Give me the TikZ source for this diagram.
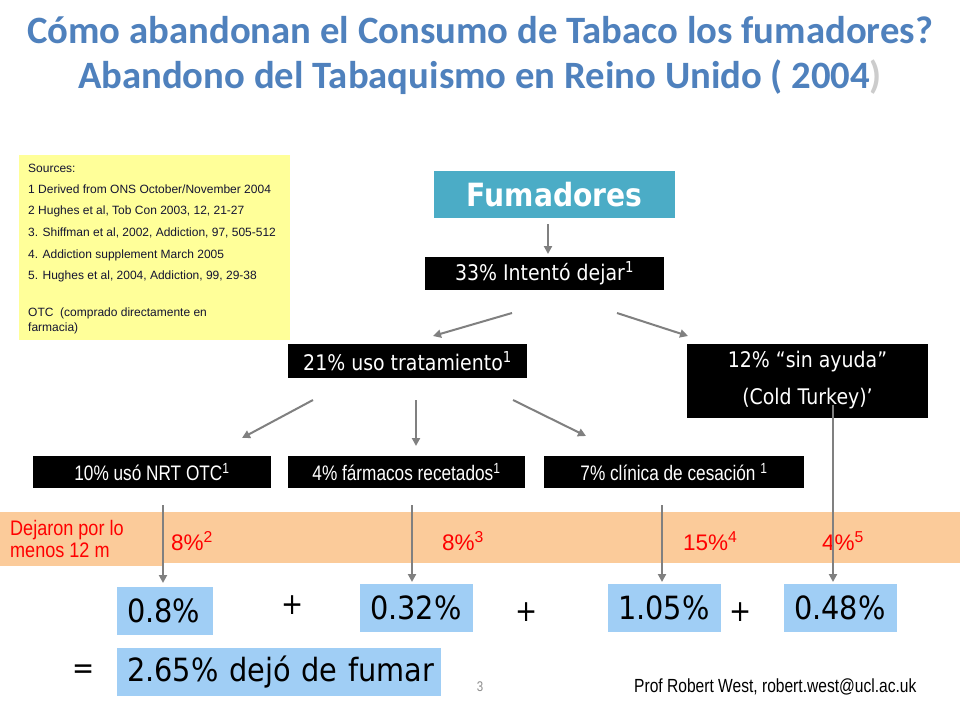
\documentclass[tikz,border=0pt]{standalone}
\usepackage{fontspec}
\usetikzlibrary{arrows.meta}
\setmainfont{Liberation Sans}
\newfontfamily\titlefont{Carlito}
\newfontfamily\tah{DejaVu Sans}[FakeStretch=0.88]
\newfontfamily\tahc{DejaVu Sans}[FakeStretch=0.9]
\newfontfamily\narrow{Liberation Sans}[FakeStretch=0.82]
\newfontfamily\dejfont{Liberation Sans}[FakeStretch=0.86]
\newfontfamily\srcfont{Liberation Sans}
\definecolor{titleblue}{RGB}{79,129,189}
\definecolor{teal}{RGB}{75,172,198}
\definecolor{srcyellow}{RGB}{255,255,153}
\definecolor{bandorange}{RGB}{251,203,154}
\definecolor{lightblue}{RGB}{160,206,245}
\definecolor{arrgray}{RGB}{128,128,128}
\definecolor{srctext}{RGB}{20,20,50}
\begin{document}
\begin{tikzpicture}[x=1pt,y=-1pt,
  blackbox/.style={fill=black,text=white,inner sep=0pt,font=\tah\fontsize{21.5}{24}\selectfont},
  whitetext/.style={text=white,inner sep=0pt,font=\tah\fontsize{21.5}{24}\selectfont},
  narrowbox/.style={fill=black,text=white,inner sep=0pt,font=\narrow\fontsize{21}{24}\selectfont},
  valbox/.style={fill=lightblue,inner ysep=0pt,inner xsep=10pt,minimum height=48pt,align=left,
                 font=\tahc\fontsize{32}{36}\selectfont},
  redpct/.style={text=red,font=\fontsize{22.5}{24}\selectfont},
  arr/.style={draw=arrgray,line width=2pt,-{Triangle[length=8pt,width=8pt]}},
  srcline/.style={anchor=west,inner sep=0pt,text=srctext,font=\srcfont\fontsize{12}{14}\selectfont},
  titletxt/.style={font=\titlefont\bfseries\fontsize{38.7}{42}\selectfont,text=titleblue},
  plusmark/.style={font=\tah\fontsize{30}{32}\selectfont}
]
\useasboundingbox (0,0) rectangle (960,720);
\fill[white] (0,0) rectangle (960,720);

% title
\node[titletxt] (t1) at (480,30) {Cómo abandonan el Consumo de Tabaco los fumadores?};
\node[titletxt] (t2) at (480,77) {Abandono del Tabaquismo en Reino Unido ( 2004\textcolor{black!20}{)}};

% sources box
\node[fill=srcyellow,minimum width=271pt,minimum height=185pt,inner sep=0pt] (src) at (154.5,247.5) {};
\node[srcline] (s0) at (28,168) {Sources:};
\node[srcline] (s1) at (28,189) {1 Derived from ONS October/November 2004};
\node[srcline] (s2) at (28,211) {2 Hughes et al, Tob Con 2003, 12, 21-27};
\node[srcline] (s3) at (28,233) {3. Shiffman et al, 2002, Addiction, 97, 505-512};
\node[srcline] (s4) at (28,255) {4. Addiction supplement March 2005};
\node[srcline] (s5) at (28,276) {5. Hughes et al, 2004, Addiction, 99, 29-38};
\node[srcline] (s6) at (28,313) {OTC\ \ (comprado directamente en};
\node[srcline] (s7) at (28,328) {farmacia)};

% main flow
\node[fill=teal,text=white,minimum width=241pt,minimum height=47pt,inner sep=0pt,
      font=\tah\bfseries\fontsize{32}{34}\selectfont] (fum) at (554.5,194.5) {Fumadores};
\node[blackbox,minimum width=239pt,minimum height=33pt] (i33) at (544.5,273.5) {33\% Intentó dejar\textsuperscript{1}};
\node[blackbox,minimum width=239pt,minimum height=34pt] (t21) at (407.5,361) {21\% uso tratamiento\textsuperscript{1}};
\node[fill=black,minimum width=241pt,minimum height=74pt,inner sep=0pt] (sa12) at (807.5,381) {};
\node[whitetext] (sa12a) at (807.5,362) {12\% “sin ayuda”};
\node[whitetext] (sa12b) at (807.5,399) {(Cold Turkey)’};
\node[narrowbox,minimum width=238pt,minimum height=32pt] (nrt) at (152,472) {10\% usó NRT OTC\textsuperscript{1}};
\node[narrowbox,minimum width=237pt,minimum height=32pt] (farm) at (406.5,472) {4\% fármacos recetados\textsuperscript{1}};
\node[narrowbox,minimum width=260pt,minimum height=32pt] (clin) at (674,472) {7\% clínica de cesación \textsuperscript{1}};

% band
\fill[bandorange] (0,512) rectangle (960,563);
\fill[bandorange] (0,512) rectangle (162,566);
\node[anchor=west,inner sep=0pt,text=red,align=left,font=\dejfont\fontsize{21}{22}\selectfont] (dej) at (10,539) {Dejaron por lo\\menos 12 m};
\node[redpct,anchor=west,inner sep=0pt] (p1) at (171,541) {8\%\textsuperscript{2}};
\node[redpct,anchor=west,inner sep=0pt] (p2) at (442,541) {8\%\textsuperscript{3}};
\node[redpct,anchor=west,inner sep=0pt] (p3) at (683,541) {15\%\textsuperscript{4}};
\node[redpct,anchor=west,inner sep=0pt] (p4) at (822,541) {4\%\textsuperscript{5}};

% values
\node[valbox,text width=76pt] (v1) at (165,610.5) {\mbox{0.8\%}};
\node[valbox,text width=93pt] (v2) at (416.5,608) {\mbox{0.32\%}};
\node[valbox,text width=93pt] (v3) at (664.5,608) {\mbox{1.05\%}};
\node[valbox,text width=93pt] (v4) at (840.5,608) {\mbox{0.48\%}};
\node[valbox,text width=304pt] (tot) at (279,672) {\mbox{2.65\% dejó de fumar}};
\node[plusmark] (plus1) at (292.5,605) {+};
\node[plusmark] (plus2) at (527,612) {+};
\node[plusmark] (plus3) at (741,612) {+};
\node[plusmark] (eq) at (84,672) {=};

\node[text=black!45,font=\narrow\fontsize{14}{16}\selectfont] (pg) at (480,687) {3};
\node[anchor=west,inner sep=0pt,font=\narrow\fontsize{19}{20}\selectfont] (auth) at (634,687) {Prof Robert West, robert.west@ucl.ac.uk};

% connector end points
\coordinate (c1a) at (548,224); \coordinate (c1b) at (548,254);
\coordinate (c2a) at (512,313); \coordinate (c2b) at (433,336);
\coordinate (c3a) at (617,313); \coordinate (c3b) at (688,336);
\coordinate (c4a) at (313,400); \coordinate (c4b) at (242,438);
\coordinate (c5a) at (416,400); \coordinate (c5b) at (416,446);
\coordinate (c6a) at (513,400); \coordinate (c6b) at (586,436);
\coordinate (c7a) at (163,505); \coordinate (c7b) at (163,583);
\coordinate (c8a) at (412,505); \coordinate (c8b) at (412,582);
\coordinate (c9a) at (662,505); \coordinate (c9b) at (662,582);
\coordinate (c10a) at (833,405); \coordinate (c10b) at (833,582);

\draw[arr] (c1a) -- (c1b);
\draw[arr] (c2a) -- (c2b);
\draw[arr] (c3a) -- (c3b);
\draw[arr] (c4a) -- (c4b);
\draw[arr] (c5a) -- (c5b);
\draw[arr] (c6a) -- (c6b);
\draw[arr] (c7a) -- (c7b);
\draw[arr] (c8a) -- (c8b);
\draw[arr] (c9a) -- (c9b);
\draw[arr] (c10a) -- (c10b);
\end{tikzpicture}
\end{document}
